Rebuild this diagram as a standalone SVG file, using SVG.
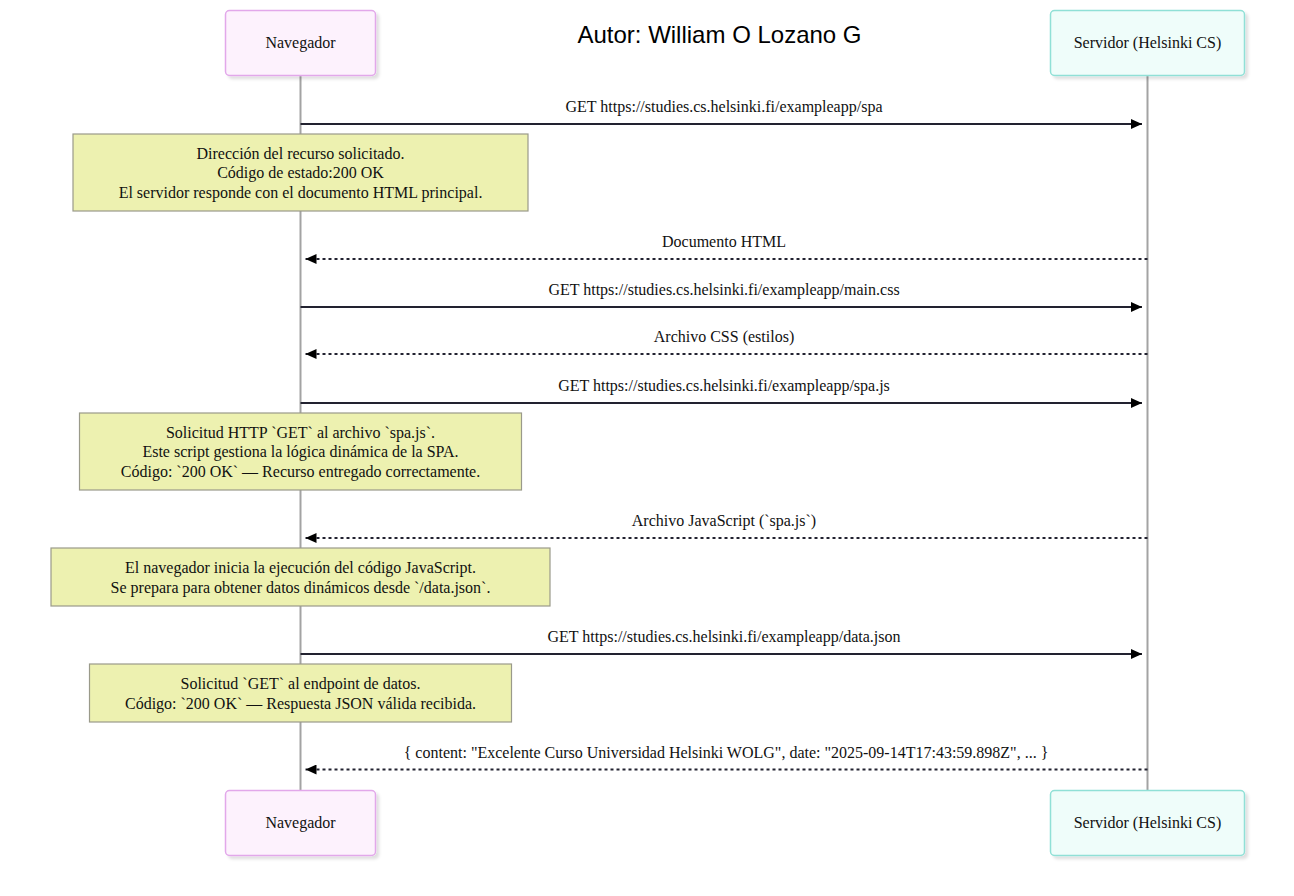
<svg xmlns="http://www.w3.org/2000/svg" width="1294" height="896" viewBox="0 0 1294 896">
<style>
  .bg { fill: #ffffff; }
  .title { font-family: "Liberation Sans", Arial, sans-serif; font-size: 24px; fill: #000; text-anchor: middle; }
  .t { font-family: "Liberation Serif", "Times New Roman", serif; font-size: 16px; fill: #111; text-anchor: middle; }
  .lifeline { stroke: #a3a3a3; stroke-width: 2; }
  .actorA { fill: #fdf2fd; stroke: #e2a8ea; stroke-width: 1.5; }
  .actorB { fill: #effdfa; stroke: #90e0d6; stroke-width: 1.5; }
  .note { fill: #edf1b0; stroke: #9a9a8a; stroke-width: 1.2; }
  .msg { stroke: #222230; stroke-width: 2; fill: none; }
  .dash { stroke-dasharray: 3 3; }
</style>
<defs>
  <marker id="arrow" markerUnits="userSpaceOnUse" markerWidth="11" markerHeight="10" viewBox="0 0 10 10" refX="10" refY="5" orient="auto" preserveAspectRatio="none">
    <path d="M0,0 L10,5 L0,10 z" fill="#000"/>
  </marker>
  <filter id="shadow" x="-10%" y="-10%" width="130%" height="140%">
    <feDropShadow dx="3" dy="3" stdDeviation="1.5" flood-color="#000" flood-opacity="0.12"/>
  </filter>
</defs>
<rect class="bg" x="0" y="0" width="1294" height="896"/>

<text class="title" x="719.5" y="43">Autor: William O Lozano G</text>

<g id="lifelines">
  <line class="lifeline" x1="300.5" y1="76" x2="300.5" y2="790"/>
  <line class="lifeline" x1="1147.5" y1="76" x2="1147.5" y2="790"/>
</g>

<g id="navegador-top">
  <rect class="actorA" x="225.5" y="10.5" width="150" height="65" rx="4" filter="url(#shadow)"/>
  <text class="t" x="300.5" y="48">Navegador</text>
</g>
<g id="servidor-top">
  <rect class="actorB" x="1050.5" y="10.5" width="194" height="65" rx="4" filter="url(#shadow)"/>
  <text class="t" x="1147.5" y="48">Servidor (Helsinki CS)</text>
</g>

<g id="connectors">
  <text class="t" x="724" y="112">GET https://studies.cs.helsinki.fi/exampleapp/spa</text>
  <line class="msg" x1="300.5" y1="124" x2="1142" y2="124" marker-end="url(#arrow)"/>

  <text class="t" x="724" y="247">Documento HTML</text>
  <line class="msg dash" x1="1147.5" y1="259" x2="305.5" y2="259" marker-end="url(#arrow)"/>

  <text class="t" x="724" y="295">GET https://studies.cs.helsinki.fi/exampleapp/main.css</text>
  <line class="msg" x1="300.5" y1="307" x2="1142" y2="307" marker-end="url(#arrow)"/>

  <text class="t" x="724" y="342">Archivo CSS (estilos)</text>
  <line class="msg dash" x1="1147.5" y1="354" x2="305.5" y2="354" marker-end="url(#arrow)"/>

  <text class="t" x="724" y="391">GET https://studies.cs.helsinki.fi/exampleapp/spa.js</text>
  <line class="msg" x1="300.5" y1="403" x2="1142" y2="403" marker-end="url(#arrow)"/>

  <text class="t" x="724" y="526">Archivo JavaScript (`spa.js`)</text>
  <line class="msg dash" x1="1147.5" y1="538" x2="305.5" y2="538" marker-end="url(#arrow)"/>

  <text class="t" x="724" y="642">GET https://studies.cs.helsinki.fi/exampleapp/data.json</text>
  <line class="msg" x1="300.5" y1="654" x2="1142" y2="654" marker-end="url(#arrow)"/>

  <text class="t" x="726" y="757.5">{ content: "Excelente Curso Universidad Helsinki WOLG", date: "2025-09-14T17:43:59.898Z", ... }</text>
  <line class="msg dash" x1="1147.5" y1="769.5" x2="305.5" y2="769.5" marker-end="url(#arrow)"/>
</g>

<g id="note1">
  <rect class="note" x="73" y="134" width="455" height="77"/>
  <text class="t" x="300.5" y="158.5">Dirección del recurso solicitado.</text>
  <text class="t" x="300.5" y="178">Código de estado:200 OK</text>
  <text class="t" x="300.5" y="197.5">El servidor responde con el documento HTML principal.</text>
</g>

<g id="note2">
  <rect class="note" x="79.5" y="413" width="442" height="77"/>
  <text class="t" x="300.5" y="437.5">Solicitud HTTP `GET` al archivo `spa.js`.</text>
  <text class="t" x="300.5" y="457">Este script gestiona la lógica dinámica de la SPA.</text>
  <text class="t" x="300.5" y="476.5">Código: `200 OK` — Recurso entregado correctamente.</text>
</g>

<g id="note3">
  <rect class="note" x="51" y="548" width="499" height="58"/>
  <text class="t" x="300.5" y="573">El navegador inicia la ejecución del código JavaScript.</text>
  <text class="t" x="300.5" y="592.5">Se prepara para obtener datos dinámicos desde `/data.json`.</text>
</g>

<g id="note4">
  <rect class="note" x="89.5" y="664" width="422" height="58"/>
  <text class="t" x="300.5" y="689">Solicitud `GET` al endpoint de datos.</text>
  <text class="t" x="300.5" y="708.5">Código: `200 OK` — Respuesta JSON válida recibida.</text>
</g>

<g id="navegador-bottom">
  <rect class="actorA" x="225.5" y="790.5" width="150" height="65" rx="4" filter="url(#shadow)"/>
  <text class="t" x="300.5" y="828">Navegador</text>
</g>
<g id="servidor-bottom">
  <rect class="actorB" x="1050.5" y="790.5" width="194" height="65" rx="4" filter="url(#shadow)"/>
  <text class="t" x="1147.5" y="828">Servidor (Helsinki CS)</text>
</g>
</svg>
